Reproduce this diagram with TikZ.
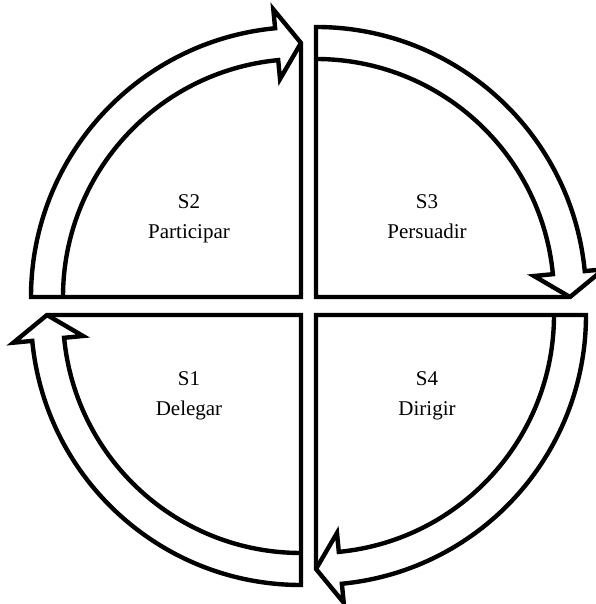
\documentclass[tikz,border=0pt]{standalone}
\usepackage{fontspec}
\setmainfont{Liberation Serif}
\usepackage{tikz}
\tikzset{
  quad/.pic={
    % outer outline: two straight edges, outer arc, arrow head
    \draw (0,0) -- (180:270) arc[start angle=180, end angle=95.5, radius=270]
          -- (95.5:289) -- (90:254) -- cycle;
    % inner arc running into the lower wing of the head
    \draw (180:238) arc[start angle=180, end angle=95.5, radius=238]
          -- (95.5:219) -- (90:254);
  },
  lbl/.style={anchor=base, font=\fontsize{21}{25}\selectfont}
}

\begin{document}
\begin{tikzpicture}[x=1pt, y=1pt, line width=4.4pt]
  \useasboundingbox (0,0) rectangle (595,604);

  % ---------- four quarter arrows, turning clockwise ----------
  \pic at (301,307) {quad};                 % S2, left -> top
  \pic[rotate=-90]  at (316,307) {quad};    % S3, top -> right
  \pic[rotate=-180] at (316,289) {quad};    % S4, right -> bottom
  \pic[rotate=-270] at (301,289) {quad};    % S1, bottom -> left

  % ---------- labels ----------
  \node[lbl] (s2)  at (189,395) {S2};
  \node[lbl] (s2t) at (189,365) {Participar};
  \node[lbl] (s3)  at (427,395) {S3};
  \node[lbl] (s3t) at (427,365) {Persuadir};
  \node[lbl] (s1)  at (189,218) {S1};
  \node[lbl] (s1t) at (189,188) {Delegar};
  \node[lbl] (s4)  at (427,218) {S4};
  \node[lbl] (s4t) at (427,188) {Dirigir};

\end{tikzpicture}
\end{document}
